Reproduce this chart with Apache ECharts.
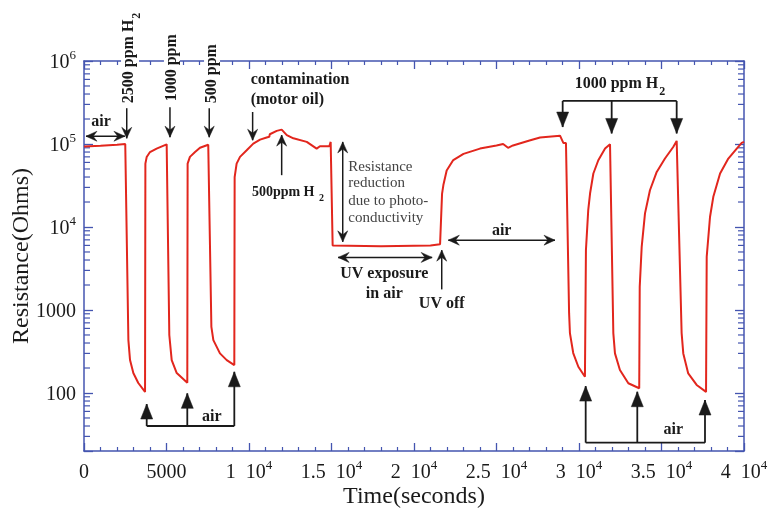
<!DOCTYPE html>
<html><head><meta charset="utf-8">
<script src="https://cdn.jsdelivr.net/npm/echarts@6/dist/echarts.min.js"></script>
<style>html,body{margin:0;padding:0;background:#fff}#c{width:770px;height:512px}</style>
</head><body><div id="c"></div>
<script>
// ---- data (time in seconds, resistance in ohms) ----
const timeSec = [0,1000,2000,2500,2590,2690,2790,2990,3290,3700,3720,3800,4000,4400,5010,5050,5170,5315,5620,6260,6280,6420,6730,7030,7530,7600,7720,7840,8240,8650,9110,9130,9250,9455,9860,10260,10670,11070,11230,11260,11680,11980,12290,12690,13500,14100,14300,14410,14610,14870,14950,15000,15070,15110,18000,21000,21580,21700,21780,21980,22380,23000,24000,25000,25400,25700,26000,27000,27640,28850,28950,29050,29210,29400,29450,29650,29960,30360,30400,30420,30560,30670,30870,31170,31580,31880,32080,32180,32480,32990,33650,33680,33800,34000,34300,34710,35210,35710,35920,36220,36320,36620,37130,37700,37740,37940,38140,38550,39050,39560,39860,40000];
const resistanceOhm = [93000,95000,98000,100000,100000,434,249,174,132,103,58000,69800,80000,88000,99000,100000,500,249,174,133,58000,70000,80000,90000,98000,99000,627,434,300,249,217,40000,58000,70000,84000,101000,113000,120000,122000,131000,144000,149000,128000,117000,106000,88000,94000,99000,94000,94000,106000,102000,6000,5770,5850,6000,6200,25000,32000,48000,64000,76000,88000,96000,100000,90000,96000,110000,120000,126000,128000,103000,103000,916,527,303,207,157,150,5260,16000,25300,44100,63700,88000,99000,527,300,189,131,114,1900,5770,14600,27700,46100,66800,92000,109000,527,300,172,125,103,4370,13200,23100,44100,66800,88000,103000,106000];
const xTickValues = [0,5000,10000,15000,20000,25000,30000,35000,40000];
const xTickLabels = ['0','5000','1  10^4','1.5  10^4','2  10^4','2.5  10^4','3  10^4','3.5  10^4','4  10^4'];
const yTickValues = [100,1000,10000,100000,1000000];
const yTickLabels = ['100','1000','10^4','10^5','10^6'];
const yMinorTickValues = [30,40,50,60,70,80,90,200,300,400,500,600,700,800,900,2000,3000,4000,5000,6000,7000,8000,9000,20000,30000,40000,50000,60000,70000,80000,90000,200000,300000,400000,500000,600000,700000,800000,900000];

const FONT = 'Liberation Serif';
const AXIS = '#4455b0';
const INK = '#1a1a1a';
const RED = '#e2261d';

function richLabel(s){
  const p = s.split('^');
  return p.length > 1 ? '{n|' + p[0] + '}{s|' + p[1] + '}' : '{n|' + s + '}';
}
const labelRich = {
  n: {fontFamily: FONT, fontSize: 20, color: INK, lineHeight: 24, verticalAlign: 'bottom'},
  s: {fontFamily: FONT, fontSize: 13, color: INK, lineHeight: 13, padding: [0,0,11,0], verticalAlign: 'bottom'}
};
function xFmt(v){ const i = xTickValues.indexOf(v); return i < 0 ? '' : richLabel(xTickLabels[i]); }
function yFmt(v){
  for (let i = 0; i < yTickValues.length; i++) {
    if (Math.abs(Math.log10(v) - Math.log10(yTickValues[i])) < 1e-6) return richLabel(yTickLabels[i]);
  }
  return '';
}

const xBase = {
  type: 'value', min: 0, max: 40000, interval: 5000,
  axisLine: {show: true, onZero: false, lineStyle: {color: AXIS, width: 1.5}},
  axisTick: {show: true, inside: true, length: 8, lineStyle: {color: AXIS, width: 1.3}},
  minorTick: {show: true, splitNumber: 5, length: 4, lineStyle: {color: AXIS, width: 1.2}},
  splitLine: {show: false}, minorSplitLine: {show: false}
};
const yBase = {
  type: 'log', logBase: 10, min: 20, max: 1000000,
  axisLine: {show: true, onZero: false, lineStyle: {color: AXIS, width: 1.5}},
  axisTick: {show: true, inside: true, length: 9, lineStyle: {color: AXIS, width: 1.3}},
  splitLine: {show: false}
};

const chart = echarts.init(document.getElementById('c'), null, {renderer: 'canvas'});
const option = {
  animation: false,
  backgroundColor: '#fff',
  grid: {left: 84, right: 26, top: 61, bottom: 61, containLabel: false, outerBoundsMode: 'none'},
  xAxis: [
    Object.assign({}, xBase, {position: 'bottom',
      name: 'Time(seconds)', nameLocation: 'middle', nameGap: 34, nameMoveOverlap: false,
      nameTextStyle: {fontFamily: FONT, fontSize: 24, color: INK},
      axisLabel: {show: true, margin: 8, formatter: xFmt, rich: labelRich, showMaxLabel: true, showMinLabel: true}}),
    Object.assign({}, xBase, {position: 'top', axisLabel: {show: false}})
  ],
  yAxis: [
    Object.assign({}, yBase, {position: 'left',
      name: 'Resistance(Ohms)', nameLocation: 'middle', nameGap: 50, nameMoveOverlap: false,
      nameTextStyle: {fontFamily: FONT, fontSize: 24, color: INK},
      axisLabel: {show: true, margin: 8, formatter: yFmt, rich: labelRich}}),
    Object.assign({}, yBase, {position: 'right', axisLabel: {show: false}})
  ],
  series: [
    {
      type: 'line', xAxisIndex: 0, yAxisIndex: 0, showSymbol: false, symbol: 'none',
      lineStyle: {color: RED, width: 2}, z: 5,
      data: timeSec.map((t, i) => [t, resistanceOhm[i]])
    },
    {
      type: 'custom', xAxisIndex: 0, yAxisIndex: 0, silent: true, z: 3,
      data: yMinorTickValues.map(v => [0, v]),
      renderItem: function(params, api){
        const v = api.value(1);
        const l = api.coord([0, v]);
        const r = api.coord([40000, v]);
        return {type: 'group', children: [
          {type: 'line', shape: {x1: l[0], y1: l[1], x2: l[0] + 6, y2: l[1]}, style: {stroke: AXIS, lineWidth: 1.2}},
          {type: 'line', shape: {x1: r[0], y1: r[1], x2: r[0] - 6, y2: r[1]}, style: {stroke: AXIS, lineWidth: 1.2}}
        ]};
      }
    }
  ]
};
chart.setOption(option);

// ---- annotations anchored in data coordinates ----
const P = (t, r) => chart.convertToPixel({xAxisIndex: 0, yAxisIndex: 0}, [t, r]);
const G = [];
function seg(a, b, w){ G.push({type: 'line', z: 100, shape: {x1: a[0], y1: a[1], x2: b[0], y2: b[1]}, style: {stroke: INK, lineWidth: w || 1.5}}); }
function head(tip, from, len, half, notch){
  const dx = tip[0] - from[0], dy = tip[1] - from[1];
  const d = Math.hypot(dx, dy); const ux = dx / d, uy = dy / d; const nx = -uy, ny = ux;
  const bx = tip[0] - ux * len, by = tip[1] - uy * len;
  G.push({type: 'polygon', z: 101, shape: {points: [
    [tip[0], tip[1]], [bx + nx * half, by + ny * half],
    [tip[0] - ux * len * notch, tip[1] - uy * len * notch], [bx - nx * half, by - ny * half]]},
    style: {fill: INK, stroke: INK, lineWidth: 0.5}});
}
function arrow(a, b){ seg(a, b); head(b, a, 11, 5, 0.65); }
function darrow(a, b){ seg(a, b); head(b, a, 11, 5, 0.65); head(a, b, 11, 5, 0.65); }
function tri(a, b){ seg(a, b, 1.8); head(b, a, 15, 6, 1); }
function txt(p, s, o){
  o = o || {};
  G.push({type: 'text', z: 102, x: p[0], y: p[1], rotation: o.rot || 0,
    style: Object.assign({text: s, fontFamily: FONT, fontSize: o.size || 16, fontWeight: o.weight || 'bold',
      fill: o.color || INK, align: o.align || 'center', verticalAlign: o.va || 'middle'}, o.extra || {})});
}
const subRich = (size) => ({
  a: {fontFamily: FONT, fontSize: size, fontWeight: 'bold', fill: INK, lineHeight: size + 2, verticalAlign: 'top'},
  b: {fontFamily: FONT, fontSize: size - 4, fontWeight: 'bold', fill: INK, lineHeight: size - 4, padding: [size * 0.6, 0, 0, 1], verticalAlign: 'top'}
});

// air (start)
darrow(P(120, 124000), P(2480, 124000));
txt(P(1030, 183000), 'air');
// H2 injections
arrow(P(2590, 270000), P(2590, 117000));
txt(P(2790, 285000), '{a|2500 ppm H}{b|2}', {rot: Math.PI / 2, align: 'left',
  extra: {rich: subRich(16), backgroundColor: '#fff', padding: [0, 3, 0, 3]}});
arrow(P(5210, 277000), P(5210, 121000));
txt(P(5330, 301000), '1000 ppm', {rot: Math.PI / 2, align: 'left', extra: {backgroundColor: '#fff', padding: [0, 3, 0, 3]}});
arrow(P(7590, 270000), P(7590, 121000));
txt(P(7760, 285000), '500 ppm', {rot: Math.PI / 2, align: 'left', extra: {backgroundColor: '#fff', padding: [0, 3, 0, 3]}});
// contamination
arrow(P(10220, 243000), P(10220, 111000));
txt(P(10100, 586000), 'contamination', {align: 'left'});
txt(P(10100, 336000), '(motor oil)', {align: 'left'});
arrow(P(11980, 42100), P(11980, 128000));
txt(P(12360, 25500), '{a|500ppm H }{b|2}', {size: 14, extra: {rich: subRich(14)}});
// photo-conductivity
darrow(P(15680, 106000), P(15680, 6620));
const rrLines = ['Resistance', 'reduction', 'due to photo-', 'conductivity'];
const rrY = [53000, 33400, 20500, 12700];
rrLines.forEach((s, i) => txt(P(16020, rrY[i]), s, {align: 'left', weight: 'normal', size: 15, color: '#444'}));
darrow(P(15400, 4300), P(21100, 4300));
txt(P(18200, 2700), 'UV exposure');
txt(P(18200, 1580), 'in air');
arrow(P(21680, 1770), P(21680, 5260));
txt(P(21680, 1200), 'UV off');
darrow(P(22080, 6940), P(28545, 6940));
txt(P(25315, 8980), 'air');
// 1000 ppm H2 bracket
txt(P(32485, 510000), '{a|1000 ppm H}{b|2}', {extra: {rich: subRich(16)}});
seg(P(29010, 330000), P(35920, 330000), 1.8);
tri(P(29010, 330000), P(29010, 160000));
tri(P(31980, 330000), P(31980, 134000));
tri(P(35920, 330000), P(35920, 134000));
// air brackets
seg(P(30405, 25.2), P(37636, 25.2), 1.8);
tri(P(30405, 25.2), P(30405, 121));
tri(P(33533, 25.2), P(33533, 103.5));
tri(P(37636, 25.2), P(37636, 82.2));
txt(P(35715, 35.8), 'air');
seg(P(3800, 40), P(9110, 40), 1.8);
tri(P(3800, 40), P(3800, 73.6));
tri(P(6260, 40), P(6260, 99));
tri(P(9110, 40), P(9110, 180));
txt(P(7740, 50.9), 'air');

chart.setOption({graphic: G});
</script></body></html>
